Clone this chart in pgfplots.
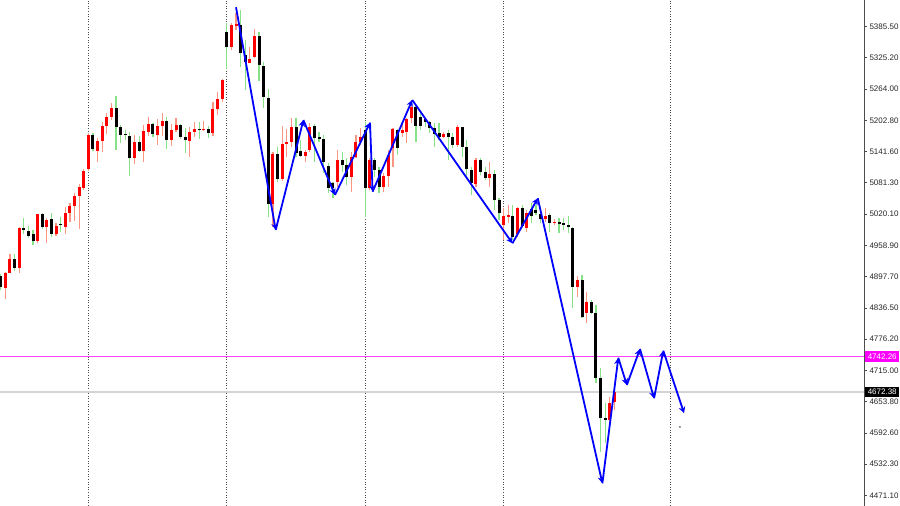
\documentclass[border=0pt]{standalone}
\usepackage{fontspec}
\setmainfont{Liberation Sans}
\usepackage{pgfplots}
\pgfplotsset{compat=1.18}
\usepackage{pgfplotstable}
\usetikzlibrary{arrows.meta}
\definecolor{wickred}{RGB}{250,150,130}
\definecolor{wickgreen}{RGB}{135,225,135}
\definecolor{bodyred}{RGB}{255,0,0}
\definecolor{zz}{RGB}{0,0,255}
\definecolor{mag}{RGB}{255,0,255}
\definecolor{curgray}{RGB}{212,212,212}

\pgfplotstableread{
x o h l c
1 4875.6 4907.4 4853.6 4905.5
2 4905.5 4941.4 4904.3 4931.6
4 4915.2 4995.2 4905.5 4993.3
8 4967.9 5020.0 4964.0 5019.4
10 4994.1 5011.6 4964.0 5008.3
12 4981.0 5003.1 4977.7 4996.6
14 4995.2 5033.1 4981.6 5021.4
15 5021.4 5042.1 5005.0 5035.6
16 5035.6 5060.4 5007.0 5055.2
17 5055.2 5078.6 4990.2 5072.7
18 5071.3 5107.2 5066.9 5104.5
19 5107.2 5177.5 5104.5 5174.2
21 5143.5 5167.7 5122.1 5162.5
22 5162.5 5200.1 5140.4 5191.7
23 5191.7 5216.5 5175.5 5209.9
24 5209.9 5237.2 5203.4 5227.5
29 5129.3 5174.2 5117.6 5159.9
31 5143.5 5193.7 5121.5 5181.4
32 5180.6 5209.9 5172.2 5195.1
34 5174.2 5204.8 5154.7 5191.7
35 5191.7 5217.7 5172.2 5202.1
37 5164.4 5195.6 5153.3 5183.9
38 5183.9 5206.8 5180.6 5193.7
41 5163.0 5190.4 5130.7 5180.6
42 5180.6 5200.1 5170.9 5185.3
44 5183.4 5202.1 5181.0 5185.9
46 5177.5 5239.2 5172.2 5224.3
47 5224.3 5258.7 5213.2 5244.4
48 5244.4 5282.9 5239.2 5280.9
50 5346.5 5392.1 5340.0 5388.8
51 5387.5 5411.6 5379.1 5390.2
54 5315.3 5346.5 5313.7 5321.9
55 5325.8 5380.4 5323.8 5367.4
59 5039.5 5141.6 4995.2 5137.1
61 5087.7 5191.7 5084.4 5156.0
62 5156.6 5185.3 5131.8 5161.1
63 5161.1 5206.8 5151.3 5190.4
66 5133.8 5144.9 5122.1 5141.6
67 5144.9 5197.6 5141.6 5190.4
73 5083.1 5144.9 5073.3 5125.4
76 5092.8 5141.6 5063.5 5131.8
77 5131.8 5174.2 5128.7 5161.1
78 5161.1 5187.8 5154.7 5170.9
80 5070.2 5129.3 5066.9 5125.4
83 5073.3 5100.0 5063.5 5094.8
84 5094.2 5144.9 5073.3 5135.2
85 5148.2 5187.2 5112.3 5185.3
87 5178.7 5197.0 5170.9 5183.9
88 5180.6 5206.8 5158.0 5204.8
89 5206.8 5242.5 5197.0 5229.4
96 5170.9 5180.6 5167.7 5176.1
99 5154.7 5193.7 5151.3 5189.2
103 5078.6 5128.7 5073.3 5125.4
106 5089.7 5122.1 5073.3 5097.5
109 4998.6 5031.1 4969.3 5016.1
110 5014.8 5037.6 5001.9 5018.1
112 4981.0 5034.3 4975.7 5031.1
114 4992.1 5027.8 4984.9 5022.0
118 5009.7 5031.1 5005.0 5016.1
120 5003.1 5009.7 4998.6 5005.0
125 4878.2 4899.0 4858.7 4891.2
127 4826.3 4868.4 4806.7 4848.9
132 4618.1 4663.5 4611.6 4650.6
133 4653.8 4673.3 4637.6 4672.4
}\bull

\pgfplotstableread{
x o h l c
0 4899.0 4902.4 4871.7 4877.0
3 4931.6 4942.0 4908.8 4915.2
5 4992.7 5011.6 4981.0 4988.2
6 4986.9 4996.6 4972.6 4977.1
7 4980.4 4988.8 4960.1 4967.9
9 5020.0 5022.6 4990.2 4994.1
11 5009.7 5022.0 4974.6 4981.0
13 5000.5 5014.8 4984.3 4998.0
20 5174.2 5177.5 5143.0 5146.3
25 5226.3 5250.3 5144.9 5190.4
26 5190.4 5193.7 5158.0 5174.2
27 5175.2 5183.9 5164.4 5173.2
28 5172.8 5179.4 5094.2 5128.7
30 5159.9 5172.2 5141.0 5143.9
33 5195.6 5198.2 5170.9 5175.5
36 5202.1 5208.7 5146.3 5164.4
39 5193.7 5195.6 5165.8 5170.9
40 5170.9 5187.2 5139.6 5164.4
43 5185.9 5199.5 5167.0 5183.4
45 5186.5 5191.7 5168.3 5177.5
49 5374.6 5392.1 5303.0 5346.5
52 5388.8 5418.1 5307.5 5333.6
53 5330.3 5359.6 5262.0 5317.2
56 5367.4 5375.7 5279.5 5310.8
57 5309.4 5317.2 5226.3 5248.9
58 5247.0 5263.4 5014.8 5039.5
60 5137.1 5150.2 5083.1 5087.7
64 5190.4 5206.8 5131.8 5138.5
65 5143.5 5164.4 5131.3 5133.8
68 5191.7 5195.6 5122.1 5167.7
69 5169.7 5180.6 5161.1 5165.8
70 5165.8 5174.2 5099.4 5122.1
71 5113.7 5119.0 5061.0 5070.2
72 5080.5 5083.1 5050.7 5070.2
74 5125.4 5141.6 5102.6 5115.6
75 5115.6 5129.3 5076.6 5092.8
79 5183.9 5200.1 5014.8 5070.2
81 5125.4 5129.3 5092.8 5105.9
82 5105.9 5112.3 5060.4 5073.3
86 5183.9 5185.3 5135.2 5148.2
90 5229.4 5232.7 5161.1 5192.3
91 5209.9 5223.0 5183.9 5192.3
92 5204.8 5206.8 5190.4 5199.0
93 5200.1 5202.1 5177.5 5187.2
94 5187.2 5197.0 5151.3 5176.1
95 5177.5 5197.0 5164.4 5170.9
97 5178.7 5183.9 5125.4 5170.9
98 5170.9 5177.5 5148.2 5154.7
100 5189.2 5190.4 5131.8 5151.3
101 5151.3 5164.4 5092.8 5107.2
102 5105.9 5112.3 5057.1 5079.9
104 5125.4 5128.7 5096.1 5102.6
105 5102.6 5112.3 5086.4 5089.7
107 5097.5 5105.9 5027.8 5047.3
108 5047.3 5050.7 5008.3 5021.4
111 5016.1 5037.6 4969.3 4975.7
113 5031.1 5037.6 4992.7 4996.6
115 5029.8 5040.9 5001.9 5016.1
116 5027.8 5037.6 5018.1 5022.6
117 5020.0 5033.7 5001.9 5009.7
119 5018.1 5021.4 4985.5 5003.1
121 5005.0 5011.6 4982.4 5000.5
122 5001.9 5011.6 4988.8 4998.6
123 4998.6 5016.1 4983.0 4994.1
124 4992.1 4995.2 4836.0 4878.2
126 4891.2 4901.0 4816.5 4819.6
128 4848.9 4852.2 4826.3 4827.4
129 4827.4 4842.5 4689.7 4699.4
130 4699.4 4718.9 4555.6 4621.4
131 4621.4 4650.6 4573.2 4618.1
}\bear

\begin{document}
\begin{tikzpicture}
\useasboundingbox (0,0) rectangle (900pt,506pt);
\begin{axis}[
  at={(0,0)}, anchor=south west,
  width=864pt, height=506pt, scale only axis,
  xmin=-0.152, xmax=187.1, ymin=4450.2, ymax=5437.6,
  axis x line=none, axis y line=right,
  axis line style={-},
  y axis line style={-, draw=black!70, line width=0.8pt},
  ytick={4471.1,4532.3,4592.6,4653.8,4715.0,4776.2,4836.5,4897.7,4958.9,5020.1,5081.3,5141.6,5202.8,5264.0,5325.2,5385.5},
  tick align=outside, major tick length=3pt,
  ytick style={draw=black!70, line width=0.6pt},
  yticklabel style={font=\fontsize{8}{9}\selectfont, text=black!85, xshift=-1pt,
    /pgf/number format/.cd, fixed, fixed zerofill, precision=2, 1000 sep={}, assume math mode=true},
]
% time separators
\addplot[black!70, line width=0.9pt, dash pattern=on 1pt off 1.6pt] coordinates {(19,4450.2)(19,5437.6)};
\addplot[black!70, line width=0.9pt, dash pattern=on 1pt off 1.6pt] coordinates {(49,4450.2)(49,5437.6)};
\addplot[black!70, line width=0.9pt, dash pattern=on 1pt off 1.6pt] coordinates {(79,4450.2)(79,5437.6)};
\addplot[black!70, line width=0.9pt, dash pattern=on 1pt off 1.6pt] coordinates {(109,4450.2)(109,5437.6)};
\addplot[black!70, line width=0.9pt, dash pattern=on 1pt off 1.6pt] coordinates {(145.06,4450.2)(145.06,5437.6)};
% price lines
\addplot[curgray, line width=1.5pt] coordinates {(-0.152,4672.38)(187.1,4672.38)};
\addplot[mag!75, line width=0.9pt] coordinates {(-0.152,4742.26)(187.1,4742.26)};
% wicks
\addplot[draw=none, mark=none, error bars/.cd, y dir=both, y explicit, error mark=none,
  error bar style={draw=wickred, line width=1.2pt}]
  table[x=x, y=c, y error plus expr=\thisrow{h}-\thisrow{c}, y error minus expr=\thisrow{c}-\thisrow{l}] {\bull};
\addplot[draw=none, mark=none, error bars/.cd, y dir=both, y explicit, error mark=none,
  error bar style={draw=wickgreen, line width=1.2pt}]
  table[x=x, y=c, y error plus expr=\thisrow{h}-\thisrow{c}, y error minus expr=\thisrow{c}-\thisrow{l}] {\bear};
% bodies
\addplot[draw=none, mark=none, error bars/.cd, y dir=plus, y explicit, error mark=none,
  error bar style={draw=bodyred, line width=3pt}]
  table[x=x, y=o, y error plus expr=\thisrow{c}-\thisrow{o}] {\bull};
\addplot[draw=none, mark=none, error bars/.cd, y dir=plus, y explicit, error mark=none,
  error bar style={draw=black, line width=3pt}]
  table[x=x, y=c, y error plus expr=\thisrow{o}-\thisrow{c}] {\bear};
% zigzag
\pgfplotsset{zzstyle/.style={zz, line width=1.8pt, -{Stealth[length=6.5pt,width=6.5pt]}}}
\addplot[zzstyle] coordinates {(51.0,5423.4)(59.6,4988.8)};
\addplot[zzstyle] coordinates {(59.6,4988.8)(65.6,5203.4)};
\addplot[zzstyle] coordinates {(65.6,5203.4)(72.45,5057.1)};
\addplot[zzstyle] coordinates {(72.45,5057.1)(80.04,5198.2)};
\addplot[zzstyle] coordinates {(80.04,5198.2)(80.6,5063.5)};
\addplot[zzstyle] coordinates {(80.6,5063.5)(89.2,5242.5)};
\addplot[zzstyle] coordinates {(89.2,5242.5)(110.9,4962.8)};
\addplot[zzstyle] coordinates {(110.9,4962.8)(116.4,5050.7)};
\addplot[zzstyle] coordinates {(116.4,5050.7)(130.4,4494.5)};
\addplot[zzstyle] coordinates {(130.4,4494.5)(133.85,4739.4)};
\addplot[zzstyle] coordinates {(133.85,4739.4)(135.7,4686.3)};
\addplot[zzstyle] coordinates {(135.7,4686.3)(138.55,4756.6)};
\addplot[zzstyle] coordinates {(138.55,4756.6)(141.6,4660.4)};
\addplot[zzstyle] coordinates {(141.6,4660.4)(143.6,4753.3)};
\addplot[zzstyle] coordinates {(143.6,4753.3)(148.1,4631.1)};
\addplot[only marks, mark=*, mark size=0.6pt, black!60] coordinates {(147.2,4604.4)};
\coordinate (pm) at (axis cs:187.1,4742.26);
\coordinate (pc) at (axis cs:187.1,4672.38);
\end{axis}
\node[anchor=west, fill=mag, text=white, inner sep=0pt, minimum width=34pt, minimum height=10.5pt,
  font=\fontsize{8}{9}\selectfont] at ([xshift=1pt]pm) {4742.26};
\node[anchor=west, fill=black, text=white, inner sep=0pt, minimum width=34pt, minimum height=10.5pt,
  font=\fontsize{8}{9}\selectfont] at ([xshift=1pt]pc) {4672.38};
\end{tikzpicture}
\end{document}
